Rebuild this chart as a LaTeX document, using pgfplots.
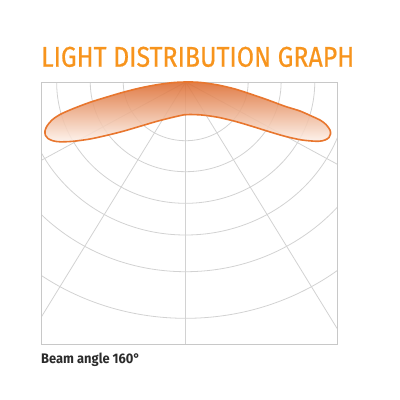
\documentclass[border=0pt]{standalone}
\usepackage{pgfplots}
\pgfplotsset{compat=1.18}
\usepackage{fontspec}
\setmainfont{Fira Sans}
\newfontfamily\titlefont[FakeBold=0.6]{Fira Sans}
\usepackage{graphicx}

\definecolor{ttl}{RGB}{247,148,29}
\definecolor{edge}{RGB}{232,118,46}
\definecolor{shtop}{RGB}{220,106,45}
\definecolor{shbot}{RGB}{253,242,235}
\definecolor{gridc}{RGB}{210,210,210}
\definecolor{boxc}{RGB}{200,200,200}
\definecolor{cap}{RGB}{43,43,43}

% lobe outline, in picture pixels (y downwards)
\pgfplotstableread{
x y
190 114.5
202 115
218 117.3
235 121.3
252 126.3
268 131.3
285 136.3
302 140
318 141.3
325 140
329 137.5
330.5 134
330 130
326 124.5
320 120
312 116.3
300 111
285 106.3
268 100
252 94.5
235 89
218 85
200 82.4
186 82
173 82.6
157 84.7
140 88
123 92.3
107 97
90 102.3
73 108.7
60 114.5
52 120
47 126
45 131
45.5 135.5
48 138.5
53 140.8
60 141.8
73 141.3
90 139
107 135.3
123 131.3
140 126.3
157 121.3
174 117
184 114.8
}\lobe

\begin{document}
\begin{tikzpicture}
\begin{axis}[
  width=400bp, height=400bp, scale only axis,
  xmin=0, xmax=400, ymin=0, ymax=400,
  y dir=reverse,
  hide axis, clip=false,
]
\path (axis cs:0,0) rectangle (axis cs:400,400);

% polar grid, centre on the top edge, slightly stretched sideways
\begin{scope}
\clip (axis cs:41.7,82) rectangle (axis cs:337.7,344.3);
\begin{scope}[gridc, line width=0.8bp]
\draw (axis cs:185.7,82) ellipse [x radius=62.46bp, y radius=58.7bp];
\draw (axis cs:185.7,82) ellipse [x radius=95.44bp, y radius=89.7bp];
\draw (axis cs:185.7,82) ellipse [x radius=129.06bp, y radius=121.3bp];
\draw (axis cs:185.7,82) ellipse [x radius=162.79bp, y radius=153bp];
\draw (axis cs:185.7,82) ellipse [x radius=201.84bp, y radius=189.7bp];
\draw (axis cs:185.7,82) ellipse [x radius=251.42bp, y radius=236.3bp];
\draw (axis cs:185.7,82) -- (axis cs:185.7,344.3);
\draw (axis cs:185.7,82) -- (axis cs:398.5,428.4);
\draw (axis cs:185.7,82) -- (axis cs:-27.1,428.4);
\draw (axis cs:185.7,82) -- (axis cs:554.3,282);
\draw (axis cs:185.7,82) -- (axis cs:-182.9,282);
\end{scope}
\end{scope}
\draw[boxc, line width=1bp] (axis cs:41.7,82) rectangle (axis cs:337.7,344.3);

\addplot[smooth, tension=0.5, draw=edge, line width=1.6bp,
  top color=shtop, bottom color=shbot, fill opacity=0.88]
  table[x=x, y=y] {\lobe} -- cycle;

\node[anchor=base west, inner sep=0pt, text=ttl] at (axis cs:41,66.7)
  {\resizebox{313bp}{20bp}{\titlefont LIGHT DISTRIBUTION GRAPH}};
\node[anchor=base west, inner sep=0pt, text=cap] at (axis cs:41,363.3)
  {\resizebox{99bp}{10.5bp}{\bfseries Beam angle 160°}};
\end{axis}
\end{tikzpicture}
\end{document}
